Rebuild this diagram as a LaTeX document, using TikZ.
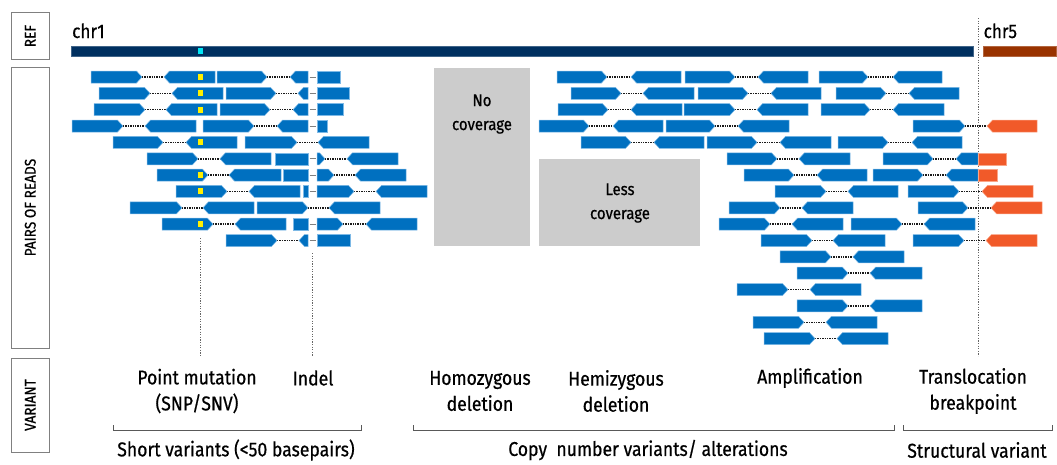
\documentclass[tikz,border=0pt]{standalone}
\usepackage{fontspec}
\setmainfont[FakeStretch=0.88, FakeBold=0.6]{Fira Sans}

\definecolor{readblue}{RGB}{0,112,192}
\definecolor{readedge}{RGB}{125,185,230}
\definecolor{readorange}{RGB}{241,90,41}
\definecolor{orangeedge}{RGB}{250,165,135}
\definecolor{refnavy}{RGB}{0,48,96}
\definecolor{refbrown}{RGB}{153,51,0}
\definecolor{snpyellow}{RGB}{255,240,0}
\definecolor{refcyan}{RGB}{0,230,245}
\definecolor{boxgray}{RGB}{204,204,204}

\tikzset{
  read/.style={fill=readblue, draw=readedge, line width=0.5pt},
  oread/.style={fill=readorange, draw=orangeedge, line width=0.5pt},
  pairlink/.style={draw=black!90, line width=1.5pt, dash pattern=on 1.3pt off 1.1pt},
  indelgap/.style={draw=gray, line width=1pt},
  sidebox/.style={draw=gray, line width=1pt, rotate=90, inner sep=0pt,
    font=\fontsize{15.5}{17}\selectfont},
  guide/.style={draw=black!60, line width=0.6pt, dash pattern=on 1.2pt off 1.4pt},
  bracketline/.style={draw=black!65, line width=0.9pt},
  lab/.style={font=\fontsize{20}{26}\selectfont, align=center, inner sep=0pt},
  grouplab/.style={font=\fontsize{20}{22}\selectfont, inner sep=0pt},
  covlab/.style={font=\fontsize{17}{24}\selectfont, align=center, inner sep=0pt},
  chrlab/.style={font=\fontsize{19.5}{22}\selectfont, anchor=base west, inner sep=0pt},
  gapbox/.style={fill=boxgray, draw=none},
}

% row centre of read row #1
\newcommand\rowc[1]{\pgfmathsetmacro\yc{77+16.35*(#1-1)}}
% forward read: row, start, arrow tip
\newcommand\fwdr[4][read]{\rowc{#2}%
  \filldraw[#1] (#3,{\yc-6}) -- ({#4-5.5},{\yc-6}) -- (#4,\yc) -- ({#4-5.5},{\yc+6}) -- (#3,{\yc+6}) -- cycle;}
% reverse read: row, arrow tip, end
\newcommand\revr[4][read]{\rowc{#2}%
  \filldraw[#1] (#3,\yc) -- ({#3+5.5},{\yc-6}) -- (#4,{\yc-6}) -- (#4,{\yc+6}) -- ({#3+5.5},{\yc+6}) -- cycle;}
% flat read piece: row, start, end
\newcommand\blkr[4][read]{\rowc{#2}%
  \filldraw[#1] (#3,{\yc-6}) rectangle (#4,{\yc+6});}
% dotted link between mates
\newcommand\dotl[3]{\rowc{#1}\draw[pairlink] (#2,\yc) -- (#3,\yc);}
% read pair: row, fwd start, fwd tip, rev tip, rev end
\newcommand\pairr[5]{\dotl{#1}{#3}{#4}\fwdr{#1}{#2}{#3}\revr{#1}{#4}{#5}}
% deletion inside a read
\newcommand\indl[1]{\rowc{#1}\draw[indelgap] (309.5,\yc) -- (315.5,\yc);}
% mismatching base
\newcommand\snpmark[1]{\rowc{#1}\fill[snpyellow] (197.8,{\yc-3}) rectangle (203.4,{\yc+3});}

\begin{document}
\begin{tikzpicture}[x=1pt,y=-1pt]
\useasboundingbox (0,0) rectangle (1057,464);

% track labels
\node[sidebox, minimum width=46.5pt, minimum height=38.5pt] (refbox) at (30.3,36) {REF};
\node[sidebox, minimum width=281pt, minimum height=38.5pt] (readsbox) at (30.3,207.5) {PAIRS OF READS};
\node[sidebox, minimum width=94pt, minimum height=38.5pt] (varbox) at (30.3,405) {VARIANT};

% reference chromosomes
\node[chrlab] (chr1) at (72,38) {chr1};
\node[chrlab] (chr5) at (983.5,38) {chr5};
\filldraw[fill=refnavy, draw=refnavy!75!white, line width=0.5pt] (71,46) rectangle (973,56);
\filldraw[fill=refbrown, draw=refbrown!75!white, line width=0.5pt] (983,46) rectangle (1056,56);
\fill[refcyan] (197.8,48.4) rectangle (203.2,54);

% breakpoint and variant guides
\draw[guide] (978,18) -- (978,356);
\draw[guide] (200.7,238) -- (200.7,356);
\draw[guide] (312.7,253) -- (312.7,356);

% coverage gaps
\fill[gapbox] (434,68) rectangle (530,246);
\fill[gapbox] (539,158.5) rectangle (700,246);
\node[covlab] (nocov) at (482,114) {No\\coverage};
\node[covlab] (lesscov) at (620,203) {Less\\coverage};

% short variants: point mutation and indel
\pairr{1}{91}{142}{164}{215} \pairr{1}{217}{267}{290}{308} \indl{1} \blkr{1}{317}{340}
\pairr{2}{99}{150}{172}{223} \pairr{2}{226}{276}{298}{308} \indl{2} \blkr{2}{317}{349}
\pairr{3}{94}{145}{166}{217} \pairr{3}{220}{270}{293}{308} \indl{3} \blkr{3}{317}{343}
\pairr{4}{72}{123}{145}{196} \pairr{4}{203}{254}{277}{308} \indl{4} \blkr{4}{317}{327}
\pairr{5}{113}{163}{186}{237} \pairr{5}{245}{297}{318}{369}
\pairr{6}{147}{198}{220}{271} \blkr{6}{275}{308} \indl{6} \pairr{6}{317}{325}{347}{398}
\pairr{7}{157}{208}{229}{281} \blkr{7}{283}{308} \indl{7} \pairr{7}{317}{334}{355}{406}
\pairr{8}{176}{227}{249}{300} \blkr{8}{303}{308} \indl{8} \pairr{8}{317}{354}{376}{427}
\pairr{9}{130}{182}{203}{254} \pairr{9}{257}{308}{329}{380}
\pairr{10}{162}{213}{235}{286} \blkr{10}{293}{308} \indl{10} \pairr{10}{317}{343}{366}{417}
\pairr{11}{226}{277}{299}{308} \indl{11} \blkr{11}{317}{350}
\snpmark{1} \snpmark{2} \snpmark{3} \snpmark{5} \snpmark{7} \snpmark{8} \snpmark{10}

% amplified region and translocation
\pairr{1}{557}{607}{631}{681} \pairr{1}{685}{735}{758}{808} \pairr{1}{819}{868}{893}{942}
\pairr{2}{571}{621}{643}{694} \pairr{2}{698}{748}{771}{821} \pairr{2}{836}{886}{909}{959}
\pairr{3}{558}{608}{631}{682} \pairr{3}{684}{735}{757}{808} \pairr{3}{821}{870}{893}{944}
\pairr{4}{539}{589}{613}{663} \pairr{4}{666}{715}{738}{789}
\dotl{4}{965}{987} \fwdr{4}{913}{965} \revr[oread]{4}{987}{1037}
\pairr{5}{581}{631}{654}{704} \pairr{5}{707}{757}{780}{831} \pairr{5}{838}{888}{912}{962}
\pairr{6}{727}{777}{799}{850} \pairr{6}{883}{933}{956}{978} \blkr[oread]{6}{978}{1006}
\pairr{7}{744}{794}{817}{867} \pairr{7}{873}{923}{946}{978} \blkr[oread]{7}{978}{997}
\pairr{8}{775}{826}{848}{898}
\dotl{8}{959}{982} \fwdr{8}{908}{959} \revr[oread]{8}{982}{1033}
\pairr{9}{729}{780}{802}{853}
\dotl{9}{968}{991} \fwdr{9}{918}{968} \revr[oread]{9}{991}{1042}
\pairr{10}{719}{770}{792}{843} \pairr{10}{851}{902}{924}{975}
\pairr{11}{761}{812}{833}{885}
\dotl{11}{964}{986} \fwdr{11}{913}{964} \revr[oread]{11}{986}{1037}
\pairr{12}{780}{831}{853}{904}
\pairr{13}{797}{848}{870}{922}
\pairr{14}{737}{788}{810}{861}
\pairr{15}{797}{848}{870}{922}
\pairr{16}{753}{804}{826}{877}
\pairr{17}{764}{815}{837}{888}

% variant labels
\node[lab] (pm) at (197,391) {Point mutation\\(SNP/SNV)};
\node[lab] (indel) at (313,378) {Indel};
\node[lab] (homo) at (480,391) {Homozygous\\deletion};
\node[lab] (hemi) at (616,391) {Hemizygous\\deletion};
\node[lab] (ampl) at (810,378) {Amplification};
\node[lab] (trans) at (973,391) {Translocation\\breakpoint};

% variant classes
\draw[bracketline] (113,425) -- (113,430) -- (361,430) -- (361,425);
\draw[bracketline] (413,425) -- (413,430) -- (894,430) -- (894,425);
\draw[bracketline] (903,425) -- (903,430) -- (1052.5,430) -- (1052.5,425);
\node[grouplab] (short) at (236,450) {Short variants (<50 basepairs)};
\node[grouplab] (cnv) at (648,450) {Copy\ \ number variants/ alterations};
\node[grouplab] (sv) at (977,450) {Structural variant};
\end{tikzpicture}
\end{document}
